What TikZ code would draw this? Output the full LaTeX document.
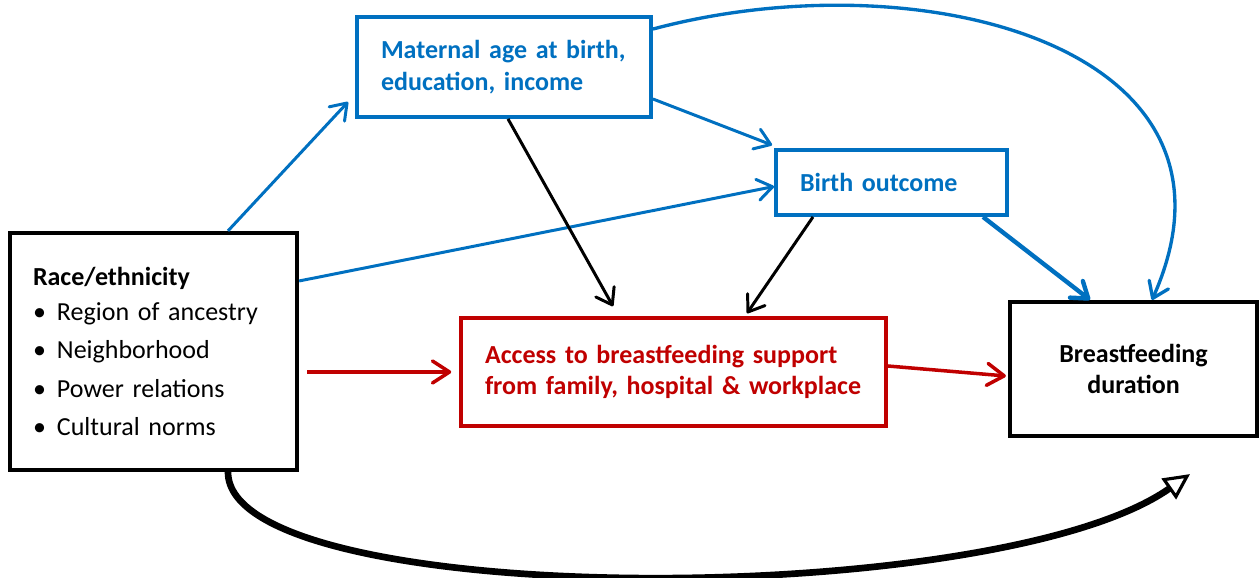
\documentclass[tikz,border=0pt]{standalone}
\usepackage{fontspec}
\setmainfont{Carlito}
\usetikzlibrary{arrows.meta}
\definecolor{officeblue}{RGB}{0, 112, 192}
\definecolor{officered}{RGB}{192, 0, 0}

\begin{document}
\begin{tikzpicture}[
        every node/.style={font=\fontsize{14.8}{18}\selectfont, align=left, inner xsep=0.48cm, inner ysep=0pt},
        blackbox/.style={draw=black, line width=2.4pt},
        bluebox/.style={draw=officeblue, line width=2.2pt, text=officeblue, font=\fontsize{14.8}{18}\selectfont\bfseries},
        redbox/.style={draw=officered, line width=2pt, text=officered, font=\fontsize{14.8}{18}\selectfont\bfseries},
        bluearrow/.style={officeblue, line width=1.7pt, -{Straight Barb[length=3mm, width=4.2mm, round]}},
        blackarrow/.style={black, line width=1.7pt, -{Straight Barb[length=3mm, width=4.2mm, round]}},
        redarrow/.style={officered, line width=2pt, -{Straight Barb[length=3.4mm, width=4.4mm, round]}}
    ]
    \useasboundingbox (0,0) rectangle (25.18,11.56);

    % boxes
    \node[blackbox, text width=4.82cm, minimum height=4.74cm, inner xsep=0.46cm,
          font=\fontsize{14.8}{21.8}\selectfont] (race) at (3.07,4.53)
        {\textbf{Race/ethnicity}\\[-0.07cm]
         \makebox[0.48cm][l]{\textbullet}Region of ancestry\\
         \makebox[0.48cm][l]{\textbullet}Neighborhood\\
         \makebox[0.48cm][l]{\textbullet}Power relations\\
         \makebox[0.48cm][l]{\textbullet}Cultural norms};
    \node[bluebox, text width=4.92cm, minimum height=2.00cm] (mat)   at (10.08,10.22) {\mbox{Maternal age at birth,}\\education, income};
    \node[bluebox, text width=3.66cm, minimum height=1.30cm] (birth) at (17.83, 7.91) {Birth outcome};
    \node[redbox,  text width=7.54cm, minimum height=2.16cm] (acc)   at (13.47, 4.12) {\mbox{Access to breastfeeding support}\\\mbox{from family, hospital \& workplace}};
    \node[blackbox, text width=3.98cm, minimum height=2.68cm, align=center,
          font=\fontsize{14.8}{18}\selectfont\bfseries] (bf) at (22.67, 4.18) {Breastfeeding\\duration};

    % blue paths
    \draw[bluearrow] ([xshift=1.49cm]race.north) -- ([xshift=-0.14cm, yshift=0.34cm]mat.south west);
    \draw[bluearrow] ([yshift=1.41cm]race.east) -- ([yshift=-0.08cm]birth.west);
    \draw[bluearrow] ([yshift=-0.64cm]mat.east) -- ([xshift=-0.04cm, yshift=0.06cm]birth.north west);
    \draw[bluearrow, line width=2.5pt] ([xshift=1.83cm]birth.south) -- ([xshift=-0.87cm]bf.north);
    \draw[bluearrow, line width=1.9pt] ([yshift=-0.28cm]mat.north east)
        .. controls +(5.35,1.43) and +(2.26,5.06) .. ([xshift=0.37cm]bf.north);

    % black paths
    \draw[blackarrow] ([xshift=0.08cm]mat.south) -- ([xshift=-1.21cm, yshift=0.2cm]acc.north);
    \draw[blackarrow] ([xshift=-1.57cm]birth.south) -- ([xshift=1.47cm, yshift=0.06cm]acc.north);
    \draw[black, line width=3.8pt, -{Triangle[open, length=5.2mm, width=5mm, line width=1.8pt]}]
        ([xshift=1.49cm]race.south) .. controls +(0,-2.75) and +(-3.93,-2.75) .. ([xshift=1.13cm, yshift=-0.72cm]bf.south);

    % red paths
    \draw[redarrow] ([xshift=0.16cm]race.east |- acc.west) -- ([xshift=-0.16cm]acc.west);
    \draw[redarrow] ([yshift=0.12cm]acc.east) -- ([xshift=-0.04cm, yshift=-0.14cm]bf.west);
\end{tikzpicture}
\end{document}
